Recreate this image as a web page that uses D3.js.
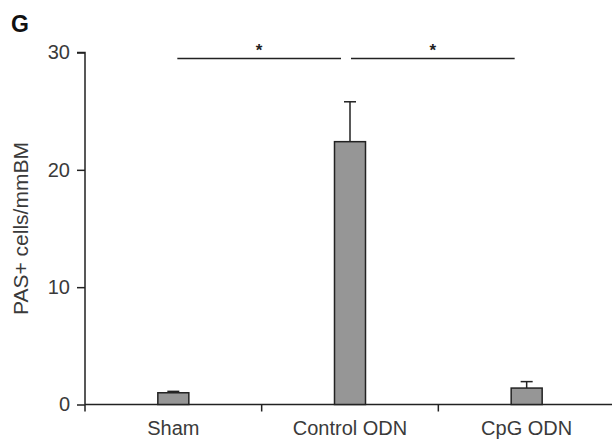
<!DOCTYPE html>
<html><head><meta charset="utf-8">
<script src="https://cdn.jsdelivr.net/npm/d3@7"></script>
<style>body{margin:0;background:#fff}svg{display:block}text{font-family:"Liberation Sans",Arial,sans-serif}</style>
</head><body>
<svg id="c" width="612" height="439"></svg>
<script>
const categories = ["Sham", "Control ODN", "CpG ODN"];
const means = [1.0, 22.4, 1.4];
const errors = [0.12, 3.4, 0.55];
const yTicks = [0, 10, 20, 30];
const sigPairs = [[0, 1], [1, 2]];
const sigLabels = ["*", "*"];

const svg = d3.select("#c");
const x = d3.scaleBand().domain(categories).range([85, 615]).padding(0);
const y = d3.scaleLinear().domain([0, 30]).range([404.5, 52.5]);
const barW = 31;
const ink = "#222";
const txt = "#3a3a3a";

// Y axis
const yAxis = svg.append("g").attr("transform", "translate(85,0)")
  .call(d3.axisLeft(y).tickValues(yTicks).tickSize(8).tickPadding(7));
yAxis.select(".domain").attr("stroke", ink).attr("stroke-width", 1.5).attr("d", `M-8,${y(30)}H0V${y(0)}`);
yAxis.selectAll(".tick line").attr("stroke", ink).attr("stroke-width", 1.5);
yAxis.selectAll(".tick text").attr("font-size", 20).attr("fill", txt).attr("font-family", "Liberation Sans, Arial, sans-serif");

// X axis
const xa = svg.append("g").attr("transform", `translate(0,${y(0)})`);
xa.append("line").attr("x1", 85).attr("x2", 612).attr("stroke", ink).attr("stroke-width", 1.5);
const bounds = categories.map(c => x(c));
xa.selectAll("line.tk").data(bounds).join("line").attr("class", "tk")
  .attr("x1", d => d).attr("x2", d => d).attr("y1", 0).attr("y2", 7)
  .attr("stroke", ink).attr("stroke-width", 1.5);
xa.selectAll("text").data(categories).join("text")
  .attr("x", d => x(d) + x.bandwidth() / 2).attr("y", 30.5)
  .attr("text-anchor", "middle").attr("font-size", 20).attr("fill", txt).text(d => d);

// error bars
const eb = svg.append("g");
categories.forEach((c, i) => {
  const cx = x(c) + x.bandwidth() / 2;
  eb.append("line").attr("x1", cx).attr("x2", cx).attr("y1", y(means[i])).attr("y2", y(means[i] + errors[i]))
    .attr("stroke", ink).attr("stroke-width", 1.5);
  eb.append("line").attr("x1", cx - 6).attr("x2", cx + 6).attr("y1", y(means[i] + errors[i])).attr("y2", y(means[i] + errors[i]))
    .attr("stroke", ink).attr("stroke-width", 1.5);
});

// bars
svg.append("g").selectAll("rect").data(categories).join("rect")
  .attr("x", d => x(d) + x.bandwidth() / 2 - barW / 2).attr("width", barW)
  .attr("y", (d, i) => y(means[i])).attr("height", (d, i) => y(0) - y(means[i]))
  .attr("fill", "#969696").attr("stroke", ink).attr("stroke-width", 1.5);

// significance
const sigY = 58.5;
sigPairs.forEach((p, i) => {
  const a = x(categories[p[0]]) + x.bandwidth() / 2;
  const b = x(categories[p[1]]) + x.bandwidth() / 2;
  const x1 = a + (i === 0 ? 4 : 1), x2 = b - (i === 0 ? 9 : 12);
  svg.append("line").attr("x1", x1).attr("x2", x2).attr("y1", sigY).attr("y2", sigY)
    .attr("stroke", ink).attr("stroke-width", 1.5);
  svg.append("text").attr("x", (x1 + x2) / 2).attr("y", sigY - 3).attr("text-anchor", "middle")
    .attr("font-size", 17).attr("font-weight", "bold").attr("fill", ink).text(sigLabels[i]);
});

// y label
svg.append("text").attr("transform", `translate(28,${(y(0) + y(30)) / 2}) rotate(-90)`)
  .attr("text-anchor", "middle").attr("font-size", 21).attr("fill", txt).text("PAS+ cells/mmBM");

// panel letter
svg.append("text").attr("x", 11).attr("y", 32).attr("font-size", 23).attr("font-weight", "bold").attr("fill", "#111").text("G");
</script>
</body></html>
